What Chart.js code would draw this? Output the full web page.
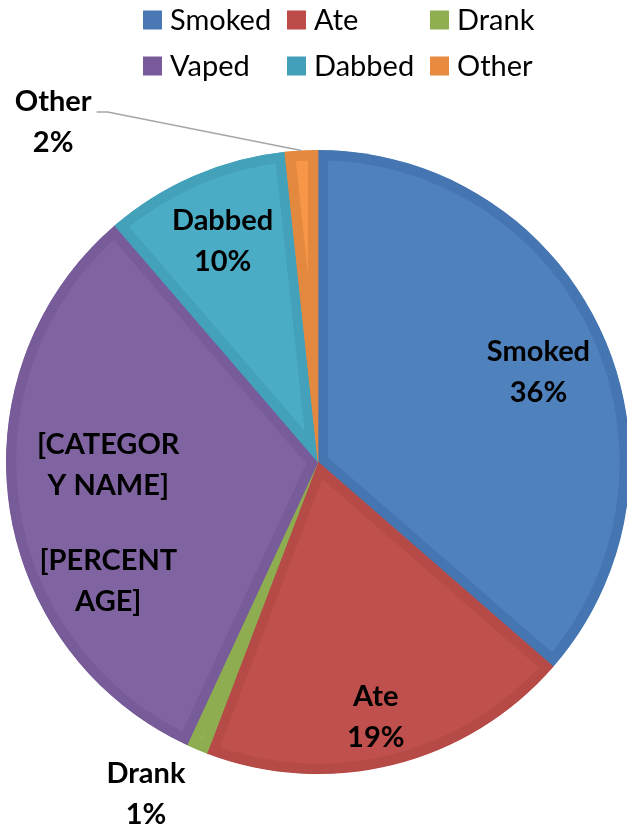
<!DOCTYPE html>
<html>
<head>
<meta charset="utf-8">
<script src="https://cdn.jsdelivr.net/npm/chart.js@4/dist/chart.umd.min.js"></script>
<style>
  html, body { margin: 0; padding: 0; background: #ffffff; }
  #wrap { width: 627px; height: 829px; position: relative; }
</style>
</head>
<body>
<div id="wrap"><canvas id="c" width="627" height="829"></canvas></div>
<script>
// ---- data ----
const categories = ['Smoked', 'Ate', 'Drank', 'Vaped', 'Dabbed', 'Other'];
const shares = [36.4, 19.4, 1.1, 31.8, 9.6, 1.7];
// label text overrides (Vaped shows Excel placeholder fields)
const labelOverrides = [null, null, null, ['[CATEGOR', 'Y NAME]', '', '[PERCENT', 'AGE]'], null, null];

// ---- styles ----
const fillColors = ['#4F81BD', '#C0504D', '#9BBB59', '#8064A2', '#4BACC6', '#F79646'];
const edgeColors = ['#4676B2', '#B54A47', '#8DAD50', '#775C99', '#43A1BA', '#E3893F'];
const legendColors = ['#4A78B5', '#BD4B48', '#8FAE50', '#7A5A9B', '#42A0BA', '#E88B40'];
// label placement: radial factor of outer radius, angle shift (deg)
const labelPlace = [
  { r: 0.763, da: 2.3 },
  { r: 0.84, da: 1.3 },
  { r: 1.20, da: 4.5 },
  { r: 0.70, da: -8.3 },
  { r: 0.77, da: 0 },
  { r: 1.38, da: -34.9, leader: true }
];

const total = shares.reduce((a, b) => a + b, 0);

const labelPlugin = {
  id: 'sliceLabels',
  afterDatasetsDraw(chart) {
    const ctx = chart.ctx;
    const meta = chart.getDatasetMeta(0);
    ctx.save();
    ctx.font = 'bold 29px Lato';
    ctx.fillStyle = '#000000';
    ctx.textAlign = 'center';
    ctx.textBaseline = 'middle';
    meta.data.forEach((arc, i) => {
      const p = arc.getProps(['x', 'y', 'startAngle', 'endAngle', 'outerRadius'], true);
      const mid = (p.startAngle + p.endAngle) / 2;
      const pl = labelPlace[i];
      const ang = mid + pl.da * Math.PI / 180;
      const lx = p.x + Math.cos(ang) * p.outerRadius * pl.r;
      const ly = p.y + Math.sin(ang) * p.outerRadius * pl.r;
      const pct = Math.round(shares[i] / total * 100) + '%';
      const lines = labelOverrides[i] || [categories[i], pct];
      const offs = [];
      let y = 0;
      lines.forEach((t) => {
        offs.push(y);
        y += (t === '' ? 34 : 41);
      });
      const h = offs[offs.length - 1];
      lines.forEach((t, k) => {
        if (t) ctx.fillText(t, lx, ly - h / 2 + offs[k]);
      });
      if (pl.leader) {
        const ax = p.x + Math.cos(mid) * p.outerRadius;
        const ay = p.y + Math.sin(mid) * p.outerRadius;
        const w = ctx.measureText(lines[0]).width;
        const sx = lx + w / 2 + 5;
        const sy = ly - h / 2 + 10;
        ctx.strokeStyle = '#A6A6A6';
        ctx.lineWidth = 1.5;
        ctx.beginPath();
        ctx.moveTo(sx, sy);
        ctx.lineTo(sx + 11, sy);
        ctx.lineTo(ax, ay);
        ctx.stroke();
      }
    });
    ctx.restore();
  }
};

const legendPlugin = {
  id: 'gridLegend',
  afterDraw(chart) {
    const ctx = chart.ctx;
    ctx.save();
    ctx.font = '29px Lato';
    ctx.textBaseline = 'middle';
    ctx.textAlign = 'left';
    const colX = [143, 287, 430];
    const rowY = [20, 66];
    categories.forEach((name, i) => {
      const cx = colX[i % 3];
      const cy = rowY[Math.floor(i / 3)];
      ctx.fillStyle = legendColors[i];
      ctx.fillRect(cx, cy - 9.5, 19, 19);
      ctx.fillStyle = '#000000';
      ctx.fillText(name, cx + 27, cy + 1);
    });
    ctx.restore();
  }
};

new Chart(document.getElementById('c'), {
  type: 'pie',
  data: {
    labels: categories,
    datasets: [{
      data: shares,
      backgroundColor: fillColors,
      borderColor: edgeColors,
      borderWidth: 10,
      borderAlign: 'inner',
      radius: 312
    }]
  },
  options: {
    responsive: false,
    animation: false,
    layout: { padding: { left: 9, right: 0, top: 95, bottom: 0 } },
    plugins: {
      legend: { display: false },
      tooltip: { enabled: false }
    }
  },
  plugins: [labelPlugin, legendPlugin]
});
</script>
</body>
</html>
